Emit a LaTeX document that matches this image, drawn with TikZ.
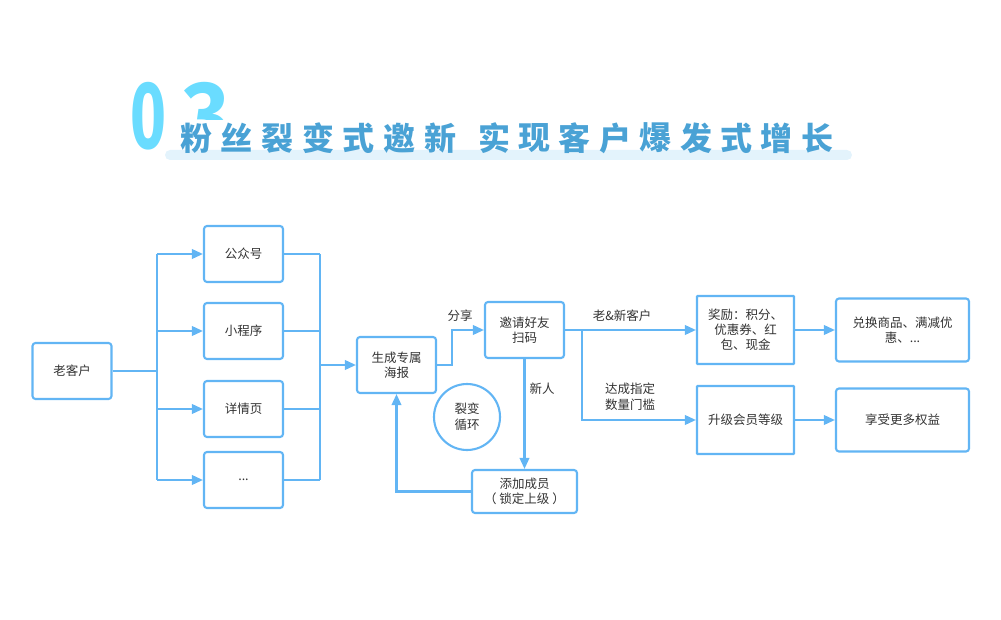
\documentclass[tikz,border=0pt]{standalone}
\usepackage{fontspec}
\setmainfont{Noto Sans CJK SC}
\newfontfamily\numfont{Fira Sans}
\usetikzlibrary{arrows.meta}
\definecolor{lineblue}{HTML}{62B5F4}
\definecolor{textgray}{HTML}{333333}
\definecolor{titleblue}{HTML}{4AA2D5}
\definecolor{numcyan}{HTML}{6ADCFF}
\definecolor{barblue}{HTML}{E3F3FC}
\tikzset{
  box/.style={draw=lineblue, line width=2.1pt, rounded corners=3pt, fill=white,
    minimum width=79pt, minimum height=56pt, inner sep=2pt, align=center,
    text=textgray, font=\fontsize{12.5}{15}\selectfont},
  sqbox/.style={box, rounded corners=0.5pt, minimum width=97pt, minimum height=68pt},
  widebox/.style={box, minimum width=133pt, minimum height=63pt},
  conn/.style={draw=lineblue, line width=2.1pt},
  arr/.style={conn, -{Triangle[length=11pt,width=9.5pt]}},
  lbl/.style={text=textgray, align=center, font=\fontsize{12.5}{16}\selectfont}
}
\begin{document}
\begin{tikzpicture}[x=1pt,y=-1pt]
\useasboundingbox (0,0) rectangle (1001,620);
% title
\node[text=numcyan, font=\numfont\bfseries\fontsize{96}{96}\selectfont, xscale=0.64] (n0) at (148,116) {0};
\begin{scope}
\clip (170,60) rectangle (240,120);
\node[text=numcyan, font=\numfont\bfseries\fontsize{96}{96}\selectfont, xscale=0.92] (n3) at (206,116) {3};
\end{scope}
\fill[barblue, rounded corners=5pt] (165,150) rectangle (852,160);
\foreach \ch [count=\i] in {粉,丝,裂,变,式,邀,新}
  \node[text=titleblue, font=\bfseries\fontsize{32}{32}\selectfont] at (196+40.7*\i-40.7,138) {\ch};
\foreach \ch [count=\i] in {实,现,客,户,爆,发,式,增,长}
  \node[text=titleblue, font=\bfseries\fontsize{32}{32}\selectfont] at (494+40.4*\i-40.4,138) {\ch};

% channels
\node[box] (lao) at (72,371) {老客户};
\node[box] (gzh) at (243.5,254) {公众号};
\node[box] (xcx) at (243.5,331) {小程序};
\node[box] (xqy) at (243.5,409) {详情页};
\node[box] (etc) at (243.5,480) {...};
\coordinate (lb) at (157,371);
\coordinate (rb) at (320,365);
\draw[conn, line width=2.8pt] (lao.east) -- (lb);
\draw[conn] (lb |- gzh) -- (lb |- etc);
\draw[conn] (rb |- gzh) -- (rb |- etc);
\foreach \n in {gzh,xcx,xqy,etc}{
  \draw[arr] (lb |- \n.west) -- (\n.west);
  \draw[conn] (\n.east) -- (rb |- \n.east);}

% fission loop
\node[box] (hb) at (396.5,365) {生成专属\\海报};
\node[box] (yq) at (524.5,330) {邀请好友\\扫码};
\node[box, minimum width=105pt, minimum height=43pt] (tj) at (524.5,491.5) {添加成员\\（ 锁定上级 ）};
\node[draw=lineblue, line width=2.1pt, circle, minimum size=66pt, lbl] (lb2) at (467,417) {裂变\\循环};
\draw[arr] (rb) -- (hb.west);
\draw[arr] (hb.east) -- (452,365) -- (452,330) -- (yq.west);
\node[lbl] (fx) at (460,316) {分享};
\draw[arr] (yq.south) -- (tj.north);
\node[lbl] (xr) at (542,389) {新人};
\draw[arr] (tj.west) -| (hb.south);

% rewards
\node[sqbox] (jl) at (745.5,330) {奖励：积分、\\优惠券、红\\包、现金};
\node[sqbox] (sj) at (745.5,420) {升级会员等级};
\node[widebox] (dh) at (902.5,330) {兑换商品、满减优\\惠、...};
\node[widebox] (xs) at (902.5,420) {享受更多权益};
\coordinate (br) at (582,330);
\draw[arr] (yq.east) -- (jl.west);
\draw[arr] (br) |- (sj.west);
\node[lbl] (lx) at (622,316) {老\&新客户};
\node[lbl] (dc) at (630,397) {达成指定\\数量门槛};
\draw[arr] (jl.east) -- (dh.west);
\draw[arr] (sj.east) -- (xs.west);
\end{tikzpicture}
\end{document}
